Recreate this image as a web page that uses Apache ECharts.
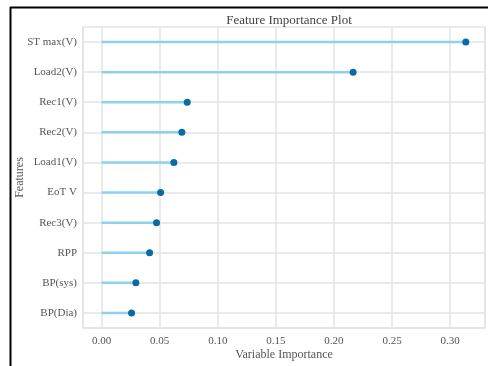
<!DOCTYPE html>
<html>
<head>
<meta charset="utf-8">
<script src="https://cdn.jsdelivr.net/npm/echarts@6/dist/echarts.min.js"></script>
<style>
html,body{margin:0;padding:0;background:#fff;}
#chart{width:488px;height:366px;}
</style>
</head>
<body>
<div id="chart"></div>
<script>
const features = ['ST max(V)', 'Load2(V)', 'Rec1(V)', 'Rec2(V)', 'Load1(V)', 'EoT V', 'Rec3(V)', 'RPP', 'BP(sys)', 'BP(Dia)'];
const importance = [0.3135, 0.2165, 0.0737, 0.0691, 0.0622, 0.0508, 0.0473, 0.0413, 0.0295, 0.0258];
const xTicks = [0.00, 0.05, 0.10, 0.15, 0.20, 0.25, 0.30];

// half-category helper axis, used only to draw grid lines through category centres
const halfSlots = [];
features.forEach(f => { halfSlots.push(f + ' a'); halfSlots.push(f + ' b'); });

const FONT = 'Liberation Serif';
const chart = echarts.init(document.getElementById('chart'), null, {renderer: 'canvas'});
chart.setOption({
  backgroundColor: '#fff',
  animation: false,
  title: {
    text: 'Feature Importance Plot',
    left: 284, top: 9, textAlign: 'center',
    textStyle: {fontFamily: FONT, fontSize: 13, fontWeight: 'normal', color: '#444'}
  },
  grid: {left: 83, top: 27, right: 3, bottom: 38, show: true, borderColor: '#e3e3e3', borderWidth: 1.5,
         containLabel: false, outerBoundsMode: 'none'},
  xAxis: {
    type: 'value', min: -0.016, max: 0.33, splitNumber: 5,
    name: 'Variable Importance', nameLocation: 'middle', nameGap: 21, nameMoveOverlap: false,
    nameTextStyle: {fontFamily: FONT, fontSize: 12, color: '#555'},
    axisLine: {show: false}, axisTick: {show: false},
    axisLabel: {
      fontFamily: FONT, fontSize: 11, color: '#555', margin: 8,
      showMinLabel: false, showMaxLabel: false,
      formatter: v => xTicks.some(t => Math.abs(t - v) < 1e-9) ? v.toFixed(2) : ''
    },
    splitLine: {show: true, lineStyle: {color: '#e3e3e3', width: 1.5}}
  },
  yAxis: [{
    type: 'category', data: features, inverse: true,
    name: 'Features', nameLocation: 'middle', nameGap: 57, nameRotate: 90, nameMoveOverlap: false,
    nameTextStyle: {fontFamily: FONT, fontSize: 12, color: '#555'},
    axisLine: {show: false}, axisTick: {show: false},
    axisLabel: {fontFamily: FONT, fontSize: 11, color: '#555', margin: 6},
    splitLine: {show: false}
  }, {
    type: 'category', data: halfSlots, inverse: true, position: 'left',
    axisLine: {show: false}, axisTick: {show: false}, axisLabel: {show: false},
    splitLine: {show: true, interval: (i) => i % 2 === 1, lineStyle: {color: '#e3e3e3', width: 1.5}}
  }],
  graphic: [
    {type: 'line', shape: {x1: 10.5, y1: 7, x2: 10.5, y2: 366}, style: {stroke: '#000', lineWidth: 2}, z: 100},
    {type: 'line', shape: {x1: 10, y1: 7.5, x2: 488, y2: 7.5}, style: {stroke: '#000', lineWidth: 2}, z: 100}
  ],
  series: [
    {
      type: 'bar', data: importance, barWidth: 2.5, z: 3,
      itemStyle: {color: '#8ed1ef'}, silent: true
    },
    {
      type: 'scatter', data: importance, symbolSize: 7, z: 4,
      itemStyle: {color: '#0a6aa4', opacity: 1}, silent: true
    }
  ]
});
</script>
</body>
</html>
